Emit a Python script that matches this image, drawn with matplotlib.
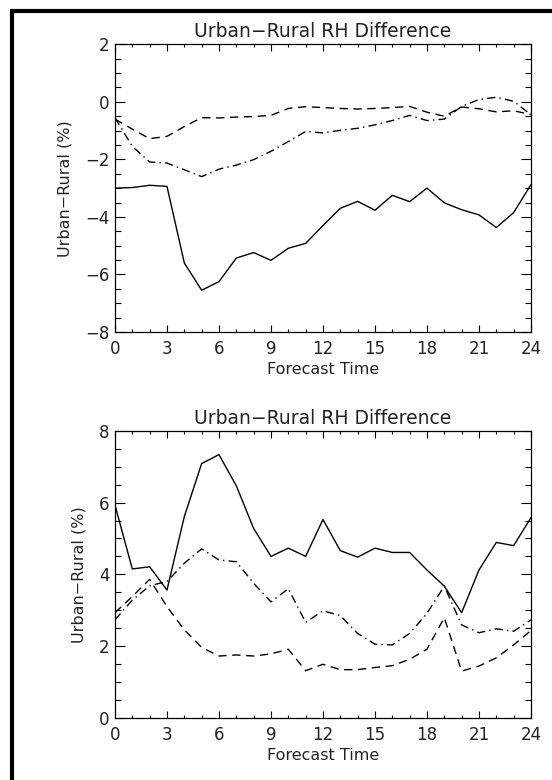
import matplotlib
matplotlib.use('Agg')
import matplotlib.pyplot as plt
from matplotlib.patches import Rectangle
from matplotlib.ticker import MultipleLocator

hours = list(range(25))

# panel 1 (upper)
top_solid = [-3.0, -2.98, -2.9, -2.94, -5.6, -6.55, -6.25, -5.43, -5.24, -5.51, -5.09, -4.92, -4.3,
             -3.7, -3.46, -3.77, -3.25, -3.47, -3.0, -3.51, -3.75, -3.93, -4.37, -3.85, -2.88]
top_dash = [-0.6, -0.95, -1.28, -1.2, -0.86, -0.55, -0.56, -0.53, -0.51, -0.47, -0.23, -0.17, -0.2,
            -0.23, -0.25, -0.23, -0.2, -0.16, -0.36, -0.5, -0.18, -0.24, -0.35, -0.31, -0.44]
top_dashdot = [-0.55, -1.55, -2.09, -2.13, -2.36, -2.6, -2.34, -2.2, -2.01, -1.72, -1.38, -1.03, -1.08,
               -0.99, -0.92, -0.8, -0.65, -0.47, -0.65, -0.6, -0.16, 0.08, 0.16, 0.02, -0.45]

# panel 2 (lower)
bot_solid = [5.93, 4.15, 4.21, 3.56, 5.61, 7.09, 7.34, 6.47, 5.28, 4.5, 4.73, 4.5, 5.53,
             4.66, 4.48, 4.73, 4.61, 4.61, 4.12, 3.67, 2.93, 4.12, 4.89, 4.8, 5.58]
bot_dash = [2.93, 3.38, 3.86, 3.1, 2.45, 1.96, 1.72, 1.75, 1.72, 1.78, 1.91, 1.31, 1.49,
            1.34, 1.34, 1.4, 1.45, 1.63, 1.91, 2.79, 1.3, 1.44, 1.67, 2.03, 2.43]
bot_dashdot = [2.73, 3.28, 3.68, 3.8, 4.31, 4.71, 4.4, 4.35, 3.75, 3.23, 3.6, 2.66, 2.98,
               2.85, 2.35, 2.05, 2.03, 2.35, 2.91, 3.67, 2.59, 2.37, 2.48, 2.41, 2.73]

title = 'Urban\u2212Rural RH Difference'
ylabel = 'Urban\u2212Rural (%)'
xlabel = 'Forecast Time'

plt.rcParams['font.family'] = 'DejaVu Sans'

fig = plt.figure(figsize=(5.52, 7.8), dpi=100)

# thick frame line on top/left like the original page
fig.patches.append(Rectangle((12 / 552, -0.1), 1.2, 1.1 - 11 / 780, transform=fig.transFigure,
                             fill=False, edgecolor='black', linewidth=3))

panels = [
    ([0.2083, 0.5744, 0.7536, 0.3688], top_solid, top_dash, top_dashdot, (-8, 2)),
    ([0.2083, 0.0799, 0.7536, 0.3676], bot_solid, bot_dash, bot_dashdot, (0, 8)),
]

for rect, s, d, dd, ylim in panels:
    ax = fig.add_axes(rect)
    ax.plot(hours, s, color='black', linewidth=1.0, linestyle='-')
    ax.plot(hours, d, color='black', linewidth=1.0, linestyle=(0, (6, 4)))
    ax.plot(hours, dd, color='black', linewidth=1.0, linestyle=(0, (6, 3, 1, 3)))
    ax.set_xlim(0, 24)
    ax.set_ylim(*ylim)
    ax.xaxis.set_major_locator(MultipleLocator(3))
    ax.xaxis.set_minor_locator(MultipleLocator(1))
    ax.yaxis.set_major_locator(MultipleLocator(2))
    ax.yaxis.set_minor_locator(MultipleLocator(0.5))
    ax.tick_params(which='both', direction='in', top=True, right=True, labelsize=12,
                   width=0.8, labelcolor='#222222')
    ax.tick_params(axis='x', which='major', length=5, pad=6)
    ax.tick_params(axis='x', which='minor', length=2.5)
    ax.tick_params(axis='y', which='major', length=7, pad=4)
    ax.tick_params(axis='y', which='minor', length=4)
    for sp in ax.spines.values():
        sp.set_linewidth(0.9)
    ax.set_title(title, fontsize=13.5, pad=5, color='#222222')
    ax.set_xlabel(xlabel, fontsize=11.5, labelpad=3, color='#222222')
    ax.set_ylabel(ylabel, fontsize=11.5, labelpad=9, color='#222222')

fig.savefig('out.png', dpi=100)
